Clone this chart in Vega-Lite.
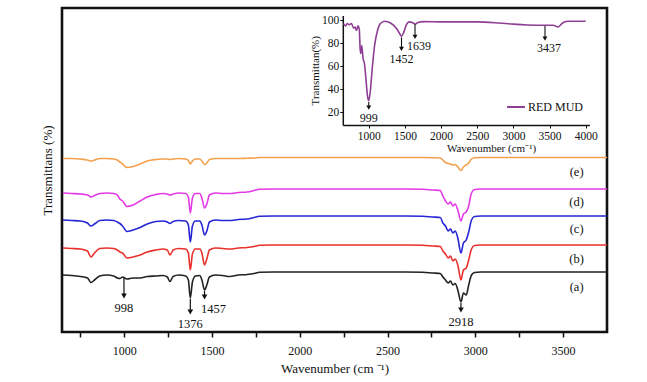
{
  "$schema": "https://vega.github.io/schema/vega-lite/v6.json",
  "width": 545,
  "height": 324,
  "autosize": "none",
  "padding": {"left": 62, "top": 8, "right": 40, "bottom": 50},
  "background": "white",
  "config": {
    "view": {"stroke": "#111111", "strokeWidth": 2.6},
    "font": "Liberation Serif",
    "axis": {"grid": false, "labelFont": "Liberation Serif", "titleFont": "Liberation Serif", "labelColor": "#111111", "titleColor": "#111111", "titleFontWeight": "normal", "domainColor": "#111111", "tickColor": "#111111"},
    "legend": {"labelFont": "Liberation Serif"},
    "text": {"font": "Liberation Serif", "color": "#111111"}
  },
  "datasets": {
    "ftir": [
      {"s":"a","wn":650,"t":57},{"s":"a","wn":700,"t":56.5},{"s":"a","wn":750,"t":55.5},{"s":"a","wn":790,"t":54},{"s":"a","wn":810,"t":49.5},{"s":"a","wn":830,"t":52},{"s":"a","wn":860,"t":56},{"s":"a","wn":900,"t":57},{"s":"a","wn":940,"t":56},{"s":"a","wn":960,"t":54},{"s":"a","wn":975,"t":53.5},{"s":"a","wn":990,"t":55},{"s":"a","wn":1015,"t":53},{"s":"a","wn":1050,"t":54},{"s":"a","wn":1090,"t":54},{"s":"a","wn":1130,"t":55.5},{"s":"a","wn":1180,"t":56},{"s":"a","wn":1220,"t":56.5},{"s":"a","wn":1245,"t":55},{"s":"a","wn":1260,"t":50.5},{"s":"a","wn":1278,"t":55.5},{"s":"a","wn":1310,"t":57},{"s":"a","wn":1350,"t":56},{"s":"a","wn":1365,"t":52},{"s":"a","wn":1376,"t":34},{"s":"a","wn":1388,"t":50},{"s":"a","wn":1405,"t":56},{"s":"a","wn":1430,"t":56.5},{"s":"a","wn":1442,"t":52},{"s":"a","wn":1457,"t":42},{"s":"a","wn":1470,"t":47},{"s":"a","wn":1485,"t":55},{"s":"a","wn":1520,"t":57},{"s":"a","wn":1560,"t":56.5},{"s":"a","wn":1600,"t":55.5},{"s":"a","wn":1650,"t":57},{"s":"a","wn":1700,"t":57.5},{"s":"a","wn":1740,"t":58.5},{"s":"a","wn":1770,"t":59.7},{"s":"a","wn":1850,"t":60},{"s":"a","wn":2200,"t":60},{"s":"a","wn":2600,"t":60},{"s":"a","wn":2700,"t":59.8},{"s":"a","wn":2760,"t":59},{"s":"a","wn":2800,"t":58.5},{"s":"a","wn":2815,"t":55},{"s":"a","wn":2830,"t":52},{"s":"a","wn":2845,"t":49},{"s":"a","wn":2858,"t":51},{"s":"a","wn":2872,"t":47},{"s":"a","wn":2885,"t":48.5},{"s":"a","wn":2900,"t":42},{"s":"a","wn":2918,"t":30},{"s":"a","wn":2932,"t":39},{"s":"a","wn":2948,"t":37},{"s":"a","wn":2962,"t":47},{"s":"a","wn":2978,"t":57},{"s":"a","wn":2995,"t":59.5},{"s":"a","wn":3030,"t":60},{"s":"a","wn":3200,"t":60},{"s":"a","wn":3500,"t":60},{"s":"a","wn":3750,"t":60},
      {"s":"b","wn":650,"t":84},{"s":"b","wn":700,"t":83.5},{"s":"b","wn":750,"t":83},{"s":"b","wn":790,"t":81},{"s":"b","wn":810,"t":75},{"s":"b","wn":830,"t":79},{"s":"b","wn":860,"t":83.5},{"s":"b","wn":900,"t":84},{"s":"b","wn":940,"t":83.5},{"s":"b","wn":960,"t":82},{"s":"b","wn":975,"t":80},{"s":"b","wn":990,"t":79},{"s":"b","wn":1015,"t":74},{"s":"b","wn":1050,"t":75},{"s":"b","wn":1090,"t":77},{"s":"b","wn":1130,"t":80},{"s":"b","wn":1180,"t":82},{"s":"b","wn":1220,"t":83},{"s":"b","wn":1245,"t":82},{"s":"b","wn":1260,"t":77},{"s":"b","wn":1278,"t":82},{"s":"b","wn":1310,"t":83.5},{"s":"b","wn":1350,"t":83},{"s":"b","wn":1365,"t":79},{"s":"b","wn":1376,"t":62},{"s":"b","wn":1388,"t":78},{"s":"b","wn":1405,"t":83},{"s":"b","wn":1430,"t":83},{"s":"b","wn":1442,"t":79},{"s":"b","wn":1457,"t":67},{"s":"b","wn":1470,"t":73},{"s":"b","wn":1485,"t":82},{"s":"b","wn":1520,"t":84},{"s":"b","wn":1560,"t":83.5},{"s":"b","wn":1600,"t":83},{"s":"b","wn":1650,"t":84},{"s":"b","wn":1700,"t":84.5},{"s":"b","wn":1740,"t":85.5},{"s":"b","wn":1770,"t":86.7},{"s":"b","wn":1850,"t":87},{"s":"b","wn":2200,"t":87},{"s":"b","wn":2600,"t":87},{"s":"b","wn":2700,"t":86.8},{"s":"b","wn":2760,"t":86},{"s":"b","wn":2800,"t":85.5},{"s":"b","wn":2815,"t":81},{"s":"b","wn":2830,"t":78},{"s":"b","wn":2845,"t":74},{"s":"b","wn":2858,"t":76},{"s":"b","wn":2872,"t":71},{"s":"b","wn":2885,"t":73},{"s":"b","wn":2900,"t":67},{"s":"b","wn":2918,"t":52},{"s":"b","wn":2932,"t":62},{"s":"b","wn":2948,"t":64},{"s":"b","wn":2962,"t":72},{"s":"b","wn":2978,"t":83},{"s":"b","wn":2995,"t":86.5},{"s":"b","wn":3030,"t":87},{"s":"b","wn":3200,"t":87},{"s":"b","wn":3500,"t":87},{"s":"b","wn":3750,"t":87},
      {"s":"c","wn":650,"t":112},{"s":"c","wn":700,"t":111.5},{"s":"c","wn":750,"t":111},{"s":"c","wn":790,"t":109},{"s":"c","wn":810,"t":106},{"s":"c","wn":830,"t":108},{"s":"c","wn":860,"t":111.5},{"s":"c","wn":900,"t":112},{"s":"c","wn":940,"t":111.5},{"s":"c","wn":960,"t":110},{"s":"c","wn":975,"t":108.5},{"s":"c","wn":990,"t":106},{"s":"c","wn":1015,"t":100.5},{"s":"c","wn":1050,"t":102},{"s":"c","wn":1090,"t":104.5},{"s":"c","wn":1130,"t":108},{"s":"c","wn":1180,"t":110.5},{"s":"c","wn":1220,"t":111},{"s":"c","wn":1245,"t":110},{"s":"c","wn":1260,"t":108.5},{"s":"c","wn":1278,"t":110.5},{"s":"c","wn":1310,"t":111.5},{"s":"c","wn":1350,"t":111},{"s":"c","wn":1365,"t":107},{"s":"c","wn":1376,"t":90},{"s":"c","wn":1388,"t":106},{"s":"c","wn":1405,"t":111},{"s":"c","wn":1430,"t":111},{"s":"c","wn":1442,"t":107},{"s":"c","wn":1457,"t":97},{"s":"c","wn":1470,"t":101},{"s":"c","wn":1485,"t":110},{"s":"c","wn":1520,"t":112},{"s":"c","wn":1560,"t":111.5},{"s":"c","wn":1600,"t":111.5},{"s":"c","wn":1650,"t":112.5},{"s":"c","wn":1700,"t":113},{"s":"c","wn":1740,"t":114.5},{"s":"c","wn":1770,"t":115.7},{"s":"c","wn":1850,"t":116},{"s":"c","wn":2200,"t":116},{"s":"c","wn":2600,"t":116},{"s":"c","wn":2700,"t":115.8},{"s":"c","wn":2760,"t":115},{"s":"c","wn":2800,"t":114.5},{"s":"c","wn":2815,"t":109},{"s":"c","wn":2830,"t":106},{"s":"c","wn":2845,"t":101},{"s":"c","wn":2858,"t":103},{"s":"c","wn":2872,"t":99},{"s":"c","wn":2885,"t":101},{"s":"c","wn":2900,"t":94},{"s":"c","wn":2918,"t":79},{"s":"c","wn":2932,"t":89},{"s":"c","wn":2948,"t":92},{"s":"c","wn":2962,"t":100},{"s":"c","wn":2978,"t":112},{"s":"c","wn":2995,"t":115.5},{"s":"c","wn":3030,"t":116},{"s":"c","wn":3200,"t":116},{"s":"c","wn":3500,"t":116},{"s":"c","wn":3750,"t":116},
      {"s":"d","wn":650,"t":139},{"s":"d","wn":700,"t":138.5},{"s":"d","wn":750,"t":138},{"s":"d","wn":790,"t":137},{"s":"d","wn":810,"t":135},{"s":"d","wn":830,"t":136.5},{"s":"d","wn":860,"t":138.5},{"s":"d","wn":900,"t":139},{"s":"d","wn":940,"t":138.5},{"s":"d","wn":960,"t":137},{"s":"d","wn":975,"t":133},{"s":"d","wn":990,"t":131},{"s":"d","wn":1015,"t":125.5},{"s":"d","wn":1050,"t":127},{"s":"d","wn":1090,"t":131},{"s":"d","wn":1130,"t":135},{"s":"d","wn":1180,"t":137.5},{"s":"d","wn":1220,"t":138.5},{"s":"d","wn":1245,"t":138},{"s":"d","wn":1260,"t":137},{"s":"d","wn":1278,"t":138},{"s":"d","wn":1310,"t":139},{"s":"d","wn":1350,"t":138.5},{"s":"d","wn":1365,"t":135},{"s":"d","wn":1376,"t":119},{"s":"d","wn":1388,"t":134},{"s":"d","wn":1405,"t":138.5},{"s":"d","wn":1430,"t":138.5},{"s":"d","wn":1442,"t":134},{"s":"d","wn":1457,"t":124},{"s":"d","wn":1470,"t":128},{"s":"d","wn":1485,"t":137},{"s":"d","wn":1520,"t":139},{"s":"d","wn":1560,"t":138.5},{"s":"d","wn":1600,"t":138.5},{"s":"d","wn":1650,"t":139.5},{"s":"d","wn":1700,"t":140},{"s":"d","wn":1740,"t":141.5},{"s":"d","wn":1770,"t":142.7},{"s":"d","wn":1850,"t":143},{"s":"d","wn":2200,"t":143},{"s":"d","wn":2600,"t":143},{"s":"d","wn":2700,"t":142.8},{"s":"d","wn":2760,"t":142},{"s":"d","wn":2800,"t":141.5},{"s":"d","wn":2815,"t":136},{"s":"d","wn":2830,"t":131},{"s":"d","wn":2845,"t":128},{"s":"d","wn":2858,"t":130},{"s":"d","wn":2872,"t":126},{"s":"d","wn":2885,"t":128},{"s":"d","wn":2900,"t":122},{"s":"d","wn":2918,"t":111},{"s":"d","wn":2932,"t":118},{"s":"d","wn":2948,"t":120},{"s":"d","wn":2962,"t":126},{"s":"d","wn":2978,"t":139},{"s":"d","wn":2995,"t":142.5},{"s":"d","wn":3030,"t":143},{"s":"d","wn":3200,"t":143},{"s":"d","wn":3500,"t":143},{"s":"d","wn":3750,"t":143},
      {"s":"e","wn":650,"t":173.5},{"s":"e","wn":700,"t":173.5},{"s":"e","wn":750,"t":173},{"s":"e","wn":790,"t":172},{"s":"e","wn":810,"t":171},{"s":"e","wn":830,"t":172},{"s":"e","wn":860,"t":173.5},{"s":"e","wn":900,"t":173.5},{"s":"e","wn":940,"t":173},{"s":"e","wn":960,"t":172},{"s":"e","wn":975,"t":170},{"s":"e","wn":990,"t":168},{"s":"e","wn":1015,"t":164.5},{"s":"e","wn":1050,"t":165.5},{"s":"e","wn":1090,"t":168},{"s":"e","wn":1130,"t":171},{"s":"e","wn":1180,"t":172.5},{"s":"e","wn":1220,"t":173},{"s":"e","wn":1245,"t":173},{"s":"e","wn":1260,"t":172.5},{"s":"e","wn":1278,"t":173},{"s":"e","wn":1310,"t":173.5},{"s":"e","wn":1350,"t":173},{"s":"e","wn":1365,"t":171.5},{"s":"e","wn":1376,"t":168},{"s":"e","wn":1388,"t":171},{"s":"e","wn":1405,"t":173},{"s":"e","wn":1430,"t":173},{"s":"e","wn":1442,"t":171},{"s":"e","wn":1457,"t":167.5},{"s":"e","wn":1470,"t":169},{"s":"e","wn":1485,"t":172.5},{"s":"e","wn":1520,"t":173.5},{"s":"e","wn":1560,"t":173.5},{"s":"e","wn":1600,"t":173.5},{"s":"e","wn":1650,"t":173.5},{"s":"e","wn":1700,"t":173.8},{"s":"e","wn":1740,"t":174},{"s":"e","wn":1770,"t":174.5},{"s":"e","wn":1850,"t":174.5},{"s":"e","wn":2200,"t":174.5},{"s":"e","wn":2600,"t":174.5},{"s":"e","wn":2700,"t":174.5},{"s":"e","wn":2760,"t":174.3},{"s":"e","wn":2800,"t":174},{"s":"e","wn":2815,"t":172},{"s":"e","wn":2830,"t":169.5},{"s":"e","wn":2845,"t":168.5},{"s":"e","wn":2858,"t":168},{"s":"e","wn":2872,"t":167},{"s":"e","wn":2885,"t":167.5},{"s":"e","wn":2900,"t":165},{"s":"e","wn":2918,"t":161.5},{"s":"e","wn":2932,"t":165},{"s":"e","wn":2948,"t":167},{"s":"e","wn":2962,"t":169},{"s":"e","wn":2978,"t":173},{"s":"e","wn":2995,"t":174.3},{"s":"e","wn":3030,"t":174.5},{"s":"e","wn":3200,"t":174.5},{"s":"e","wn":3500,"t":174.5},{"s":"e","wn":3750,"t":174.5}
    ],
    "peaks": [
      {"wn": 998, "top": 54, "tip": 36, "label": "998"},
      {"wn": 1376, "top": 33, "tip": 20, "label": "1376"},
      {"wn": 1457, "top": 41, "tip": 35, "label": "1457"},
      {"wn": 2918, "top": 29, "tip": 22, "label": "2918"}
    ],
    "tags": [
      {"wn": 3577, "t": 160, "tag": "(e)"},
      {"wn": 3577, "t": 130, "tag": "(d)"},
      {"wn": 3577, "t": 103, "tag": "(c)"},
      {"wn": 3577, "t": 73, "tag": "(b)"},
      {"wn": 3577, "t": 45, "tag": "(a)"}
    ],
    "mud": [
      {"sample":"RED MUD","wn":650,"pct":97},{"sample":"RED MUD","wn":680,"pct":95},{"sample":"RED MUD","wn":700,"pct":97},{"sample":"RED MUD","wn":730,"pct":96},{"sample":"RED MUD","wn":760,"pct":97},{"sample":"RED MUD","wn":790,"pct":93},{"sample":"RED MUD","wn":810,"pct":94},{"sample":"RED MUD","wn":830,"pct":91},{"sample":"RED MUD","wn":850,"pct":95},{"sample":"RED MUD","wn":868,"pct":92},{"sample":"RED MUD","wn":880,"pct":75},{"sample":"RED MUD","wn":890,"pct":71},{"sample":"RED MUD","wn":902,"pct":78},{"sample":"RED MUD","wn":920,"pct":67},{"sample":"RED MUD","wn":940,"pct":62},{"sample":"RED MUD","wn":960,"pct":49},{"sample":"RED MUD","wn":980,"pct":35},{"sample":"RED MUD","wn":999,"pct":30},{"sample":"RED MUD","wn":1020,"pct":38},{"sample":"RED MUD","wn":1050,"pct":60},{"sample":"RED MUD","wn":1080,"pct":78},{"sample":"RED MUD","wn":1120,"pct":91},{"sample":"RED MUD","wn":1160,"pct":97},{"sample":"RED MUD","wn":1220,"pct":99},{"sample":"RED MUD","wn":1300,"pct":97.5},{"sample":"RED MUD","wn":1380,"pct":93},{"sample":"RED MUD","wn":1420,"pct":89},{"sample":"RED MUD","wn":1452,"pct":86},{"sample":"RED MUD","wn":1480,"pct":89},{"sample":"RED MUD","wn":1520,"pct":96},{"sample":"RED MUD","wn":1560,"pct":98.5},{"sample":"RED MUD","wn":1600,"pct":98},{"sample":"RED MUD","wn":1639,"pct":96.5},{"sample":"RED MUD","wn":1680,"pct":98},{"sample":"RED MUD","wn":1760,"pct":98.7},{"sample":"RED MUD","wn":2000,"pct":98.5},{"sample":"RED MUD","wn":2500,"pct":98.5},{"sample":"RED MUD","wn":2800,"pct":97.5},{"sample":"RED MUD","wn":3000,"pct":96.5},{"sample":"RED MUD","wn":3200,"pct":95.8},{"sample":"RED MUD","wn":3437,"pct":95.5},{"sample":"RED MUD","wn":3550,"pct":95.5},{"sample":"RED MUD","wn":3620,"pct":94},{"sample":"RED MUD","wn":3680,"pct":97.5},{"sample":"RED MUD","wn":3750,"pct":99},{"sample":"RED MUD","wn":4000,"pct":99}
    ],
    "mudPeaks": [
      {"wn": 999, "top": 29, "tip": 24, "label": "999"},
      {"wn": 1452, "top": 85, "tip": 75, "label": "1452"},
      {"wn": 1639, "top": 96.5, "tip": 85.5, "label": "1639"},
      {"wn": 3437, "top": 95, "tip": 84, "label": "3437"}
    ]
  },
  "layer": [
    {
      "layer": [
        {
          "data": {"name": "ftir"},
          "mark": {"type": "line", "strokeWidth": 1.6, "interpolate": "monotone"},
          "encoding": {
            "x": {
              "field": "wn", "type": "quantitative",
              "scale": {"domain": [645, 3750], "nice": false, "zero": false},
              "axis": {
                "title": "Wavenumber (cm ⁻¹)",
                "values": [750, 1000, 1250, 1500, 1750, 2000, 2250, 2500, 2750, 3000, 3250, 3500],
                "labelExpr": "datum.value % 500 === 0 ? datum.label : ''",
                "format": "d", "domain": false, "tickSize": 5, "tickWidth": 1.5,
                "labelFontSize": 12, "labelPadding": 8, "labelFlush": false,
                "titleFontSize": 13, "titlePadding": 6
              }
            },
            "y": {
              "field": "t", "type": "quantitative",
              "scale": {"domain": [0, 324], "nice": false, "zero": false},
              "axis": {"title": "Transmittans (%)", "labels": false, "ticks": false, "domain": false, "titleFontSize": 13, "titlePadding": 8}
            },
            "color": {
              "field": "s", "type": "nominal",
              "scale": {"domain": ["a", "b", "c", "d", "e"], "range": ["#222222", "#e8302c", "#2626d6", "#e43ae6", "#f4a14e"]},
              "legend": null
            }
          }
        },
        {
          "data": {"name": "peaks"},
          "mark": {"type": "rule", "strokeWidth": 1.2, "color": "#111111"},
          "encoding": {
            "x": {"field": "wn", "type": "quantitative"},
            "y": {"field": "top", "type": "quantitative"},
            "y2": {"field": "tip"}
          }
        },
        {
          "data": {"name": "peaks"},
          "mark": {"type": "point", "shape": "triangle-down", "filled": true, "size": 32, "color": "#111111", "opacity": 1},
          "encoding": {
            "x": {"field": "wn", "type": "quantitative"},
            "y": {"field": "tip", "type": "quantitative"}
          }
        },
        {
          "data": {"name": "peaks"},
          "transform": [{"filter": "datum.label !== '1457'"}],
          "mark": {"type": "text", "fontSize": 12.5, "baseline": "middle", "dy": 12},
          "encoding": {
            "x": {"field": "wn", "type": "quantitative"},
            "y": {"field": "tip", "type": "quantitative"},
            "text": {"field": "label"}
          }
        },
        {
          "data": {"name": "peaks"},
          "transform": [{"filter": "datum.label === '1457'"}],
          "mark": {"type": "text", "fontSize": 12.5, "baseline": "middle", "dy": 12, "dx": 9},
          "encoding": {
            "x": {"field": "wn", "type": "quantitative"},
            "y": {"field": "tip", "type": "quantitative"},
            "text": {"field": "label"}
          }
        },
        {
          "data": {"name": "tags"},
          "mark": {"type": "text", "fontSize": 12.5, "baseline": "middle"},
          "encoding": {
            "x": {"field": "wn", "type": "quantitative"},
            "y": {"field": "t", "type": "quantitative"},
            "text": {"field": "tag"}
          }
        }
      ]
    },
    {
      "layer": [
        {
          "data": {"name": "mud"},
          "mark": {"type": "line", "strokeWidth": 1.6, "interpolate": "monotone"},
          "encoding": {
            "x": {
              "field": "wn", "type": "quantitative",
              "scale": {"domain": [640, 4050], "range": [280.8, 527.3], "nice": false, "zero": false},
              "axis": {
                "orient": "bottom", "offset": -207, "title": "Wavenumber (cm⁻¹)",
                "values": [1000, 1500, 2000, 2500, 3000, 3500, 4000], "format": "d",
                "labelFontSize": 11.5, "labelPadding": 2, "tickSize": 3, "domainWidth": 1.5,
                "titleFontSize": 11, "titleX": 429, "titleY": 17
              }
            },
            "y": {
              "field": "pct", "type": "quantitative",
              "scale": {"domain": [9, 104], "range": [117, 7.5], "nice": false, "zero": false},
              "axis": {
                "orient": "left", "offset": -280.8, "title": "Transmittan(%)",
                "values": [20, 40, 60, 80, 100],
                "labelFontSize": 11.5, "labelPadding": 1, "tickSize": 3, "domainWidth": 1.5,
                "titleFontSize": 11, "titlePadding": 1
              }
            },
            "stroke": {
              "field": "sample", "type": "nominal",
              "scale": {"range": ["#8e3f93"]},
              "legend": {
                "orient": "none", "legendX": 444, "legendY": 89, "title": null,
                "symbolType": "stroke", "symbolStrokeWidth": 2, "symbolSize": 320,
                "labelFontSize": 12, "labelColor": "#111111", "labelOffset": 2
              }
            }
          }
        },
        {
          "data": {"name": "mudPeaks"},
          "mark": {"type": "rule", "strokeWidth": 1.1, "color": "#111111"},
          "encoding": {
            "x": {"field": "wn", "type": "quantitative"},
            "y": {"field": "top", "type": "quantitative"},
            "y2": {"field": "tip"}
          }
        },
        {
          "data": {"name": "mudPeaks"},
          "mark": {"type": "point", "shape": "triangle-down", "filled": true, "size": 24, "color": "#111111", "opacity": 1},
          "encoding": {
            "x": {"field": "wn", "type": "quantitative"},
            "y": {"field": "tip", "type": "quantitative"}
          }
        },
        {
          "data": {"name": "mudPeaks"},
          "transform": [{"filter": "datum.label !== '1639' && datum.label !== '3437'"}],
          "mark": {"type": "text", "fontSize": 12, "baseline": "middle", "dy": 10},
          "encoding": {
            "x": {"field": "wn", "type": "quantitative"},
            "y": {"field": "tip", "type": "quantitative"},
            "text": {"field": "label"}
          }
        },
        {
          "data": {"name": "mudPeaks"},
          "transform": [{"filter": "datum.label === '1639' || datum.label === '3437'"}],
          "mark": {"type": "text", "fontSize": 12, "baseline": "middle", "dy": 9, "dx": 4},
          "encoding": {
            "x": {"field": "wn", "type": "quantitative"},
            "y": {"field": "tip", "type": "quantitative"},
            "text": {"field": "label"}
          }
        }
      ]
    }
  ],
  "resolve": {"scale": {"x": "independent", "y": "independent"}}
}
